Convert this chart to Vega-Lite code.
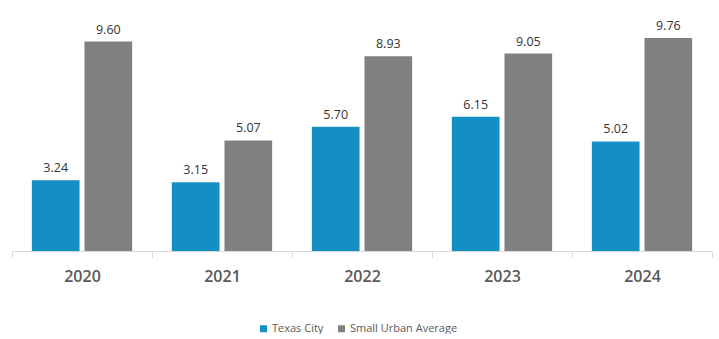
{
  "$schema": "https://vega.github.io/schema/vega-lite/v6.json",
  "width": 700,
  "height": 240,
  "padding": {"left": 11, "top": 11, "right": 8, "bottom": 0},
  "background": "white",
  "config": {
    "view": {"stroke": null},
    "font": "Open Sans"
  },
  "data": {
    "values": [
      {"year": "2020", "series": "Texas City", "value": 3.24},
      {"year": "2020", "series": "Small Urban Average", "value": 9.60},
      {"year": "2021", "series": "Texas City", "value": 3.15},
      {"year": "2021", "series": "Small Urban Average", "value": 5.07},
      {"year": "2022", "series": "Texas City", "value": 5.70},
      {"year": "2022", "series": "Small Urban Average", "value": 8.93},
      {"year": "2023", "series": "Texas City", "value": 6.15},
      {"year": "2023", "series": "Small Urban Average", "value": 9.05},
      {"year": "2024", "series": "Texas City", "value": 5.02},
      {"year": "2024", "series": "Small Urban Average", "value": 9.76}
    ]
  },
  "encoding": {
    "x": {
      "field": "year",
      "type": "nominal",
      "scale": {"paddingInner": 0, "paddingOuter": 0},
      "axis": {
        "title": null,
        "labelAngle": 0,
        "labelFontSize": 16,
        "labelFontWeight": 600,
        "labelColor": "#595959",
        "labelPadding": 10,
        "tickBand": "extent",
        "tickSize": 7,
        "tickColor": "#d9d9d9",
        "domainColor": "#d9d9d9",
        "domainWidth": 1
      }
    },
    "xOffset": {
      "field": "series",
      "type": "nominal",
      "sort": ["Texas City", "Small Urban Average"],
      "scale": {"paddingInner": 0.094, "paddingOuter": 0.377}
    },
    "y": {
      "field": "value",
      "type": "quantitative",
      "scale": {"domain": [0, 11]},
      "axis": null
    }
  },
  "layer": [
    {
      "mark": {"type": "bar"},
      "encoding": {
        "color": {
          "field": "series",
          "type": "nominal",
          "sort": ["Texas City", "Small Urban Average"],
          "scale": {
            "domain": ["Texas City", "Small Urban Average"],
            "range": ["#138fc3", "#808080"]
          },
          "legend": {
            "title": null,
            "orient": "none",
            "legendX": 246,
            "legendY": 312,
            "direction": "horizontal",
            "symbolType": "square",
            "symbolSize": 49,
            "symbolStrokeWidth": 0,
            "symbolOffset": 0,
            "labelFontSize": 11,
            "labelColor": "#595959",
            "labelOffset": 3,
            "columnPadding": 12
          }
        }
      }
    },
    {
      "mark": {
        "type": "text",
        "baseline": "alphabetic",
        "dy": -8,
        "fontSize": 12.5,
        "color": "#333333"
      },
      "encoding": {
        "text": {"field": "value", "type": "quantitative", "format": ".2f"}
      }
    }
  ]
}
